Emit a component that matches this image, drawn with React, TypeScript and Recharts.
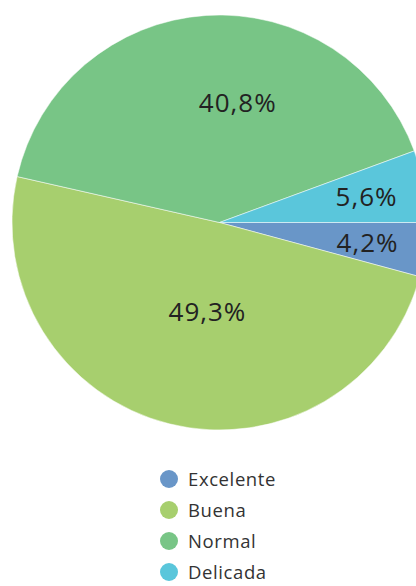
import { PieChart, Pie, Cell, Legend } from 'recharts';

const categories = ['Excelente', 'Buena', 'Normal', 'Delicada'];
const shares = [4.2, 49.3, 40.8, 5.6];
const labels = ['4,2%', '49,3%', '40,8%', '5,6%'];
const colors = ['#6996c8', '#a7cf6e', '#78c586', '#5ac6db'];

// label radius as a fraction of the outer radius, and a small sideways nudge
const labelRadius = [0.72, 0.44, 0.58, 0.72];
const labelNudge = [0, 10, 26, 0];

const data = categories.map((name, i) => ({ name, value: shares[i], label: labels[i] }));

const FONT = '"Open Sans", sans-serif';
const RAD = Math.PI / 180;
const total = shares.reduce((s, v) => s + v, 0);

function midAngleOf(index: number) {
  let before = 0;
  for (let i = 0; i < index; i++) before += shares[i];
  // clockwise from 3 o'clock, in screen degrees
  return ((before + shares[index] / 2) / total) * 360;
}

function renderLabel(props: any) {
  const { cx, cy, outerRadius, index } = props;
  const a = midAngleOf(index) * RAD;
  const r = outerRadius * labelRadius[index];
  const x = cx + r * Math.cos(a) + labelNudge[index];
  const y = cy + r * Math.sin(a);
  return (
    <text
      x={x}
      y={y}
      fill="#222"
      fontSize={26}
      letterSpacing={1}
      fontFamily={FONT}
      textAnchor="middle"
      dominantBaseline="central"
    >
      {labels[index]}
    </text>
  );
}

function LegendList() {
  return (
    <div style={{ fontFamily: FONT, fontSize: 18.5, letterSpacing: 0.6, color: '#333', lineHeight: 1 }}>
      {categories.map((c, i) => (
        <div
          key={c}
          style={{
            display: 'flex', alignItems: 'center', height: 18,
            marginBottom: i < categories.length - 1 ? 13 : 0,
          }}
        >
          <span
            style={{
              width: 18, height: 18, borderRadius: 9, background: colors[i],
              display: 'inline-block', marginRight: 10, flexShrink: 0,
            }}
          />
          <span>{c}</span>
        </div>
      ))}
    </div>
  );
}

export default function App() {
  return (
    <div style={{ position: 'absolute', left: 0, top: 0, width: 416, height: 586, overflow: 'hidden', background: '#fff' }}>
      <PieChart width={416} height={586} margin={{ top: 0, right: 0, bottom: 0, left: 0 }}>
        <Pie
          data={data}
          dataKey="value"
          cx={219.5}
          cy={222.5}
          outerRadius={207.5}
          startAngle={0}
          endAngle={-360}
          stroke="#fff"
          strokeWidth={0.5}
          label={renderLabel}
          labelLine={false}
          isAnimationActive={false}
        >
          {data.map((d, i) => (
            <Cell key={d.name} fill={colors[i]} />
          ))}
        </Pie>
        <Legend content={() => <LegendList />} wrapperStyle={{ top: 470, left: 160, width: 220 }} />
      </PieChart>
    </div>
  );
}
